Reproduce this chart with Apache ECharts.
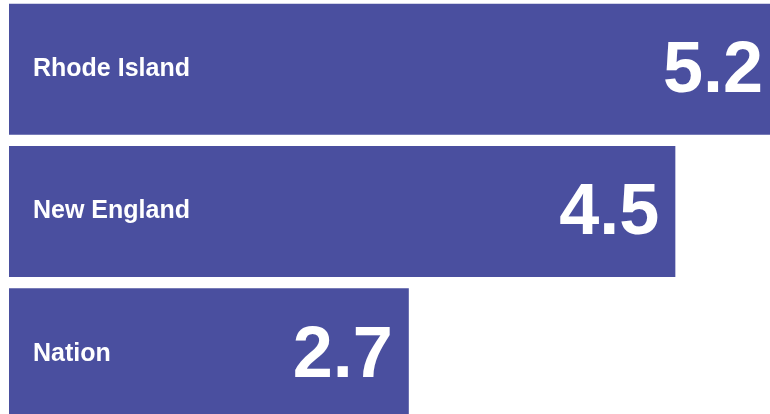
<!DOCTYPE html>
<html>
<head>
<meta charset="utf-8">
<script src="https://cdn.jsdelivr.net/npm/echarts@6/dist/echarts.min.js"></script>
<style>
  html, body { margin: 0; padding: 0; background: #fff; }
  #chart { width: 770px; height: 414px; }
</style>
</head>
<body>
<div id="chart"></div>
<script>
const regions = ["Rhode Island", "New England", "Nation"];
const values = [5.2, 4.5, 2.7];

const barColor = "#4a4f9f";

const chart = echarts.init(document.getElementById("chart"));

const option = {
  animation: false,
  grid: {
    left: 9,
    top: -2,
    width: 770,
    height: 427,
    outerBoundsMode: "none",
    containLabel: false,
  },
  xAxis: {
    type: "value",
    min: 0,
    max: 5.2,
    show: false,
  },
  yAxis: {
    type: "category",
    data: regions,
    inverse: true,
    show: false,
  },
  series: [
    {
      type: "bar",
      data: values,
      barWidth: 131,
      itemStyle: { color: barColor },
      label: {
        show: true,
        position: "insideRight",
        distance: 16,
        offset: [0, 3],
        color: "#fff",
        fontFamily: "Liberation Sans",
        fontWeight: "bold",
        fontSize: 72,
        formatter: (p) => p.value.toFixed(1),
      },
    },
    {
      // category names drawn inside the left end of each bar
      type: "bar",
      data: values,
      barWidth: 131,
      barGap: "-100%",
      itemStyle: { color: "transparent" },
      label: {
        show: true,
        position: "insideLeft",
        distance: 24,
        color: "#fff",
        fontFamily: "Liberation Sans",
        fontWeight: "bold",
        fontSize: 25,
        formatter: "{b}",
      },
    },
  ],
};

chart.setOption(option);
</script>
</body>
</html>
